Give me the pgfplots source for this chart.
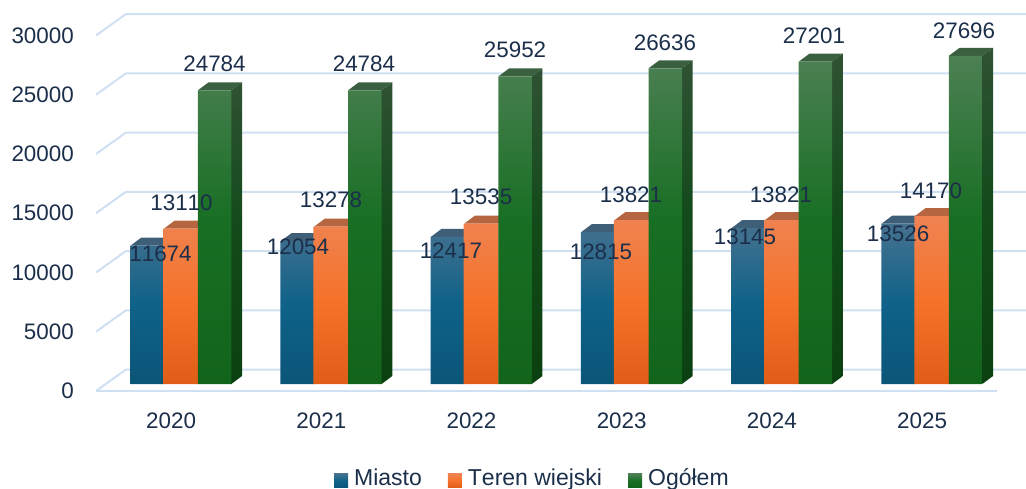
\documentclass[border=0pt]{standalone}
\usepackage{pgfplots}
\pgfplotsset{compat=1.18}
\usepackage{pgfplotstable}
\usepackage{fontspec}
\setmainfont[Kerning=Off]{Liberation Sans}
\definecolor{txt}{HTML}{1B2F4A}
\definecolor{gridc}{HTML}{CFE0F3}
\definecolor{bluetop}{HTML}{3F5F78}
\definecolor{orgtop}{HTML}{B56540}
\definecolor{grntop}{HTML}{3B6040}
\definecolor{blueT}{HTML}{46718F}\definecolor{blueM}{HTML}{0F6289}\definecolor{blueB}{HTML}{0B5578}
\definecolor{orgT}{HTML}{EF8352}\definecolor{orgM}{HTML}{F5722B}\definecolor{orgB}{HTML}{E05D18}
\definecolor{grnT}{HTML}{4D8054}\definecolor{grnM}{HTML}{186F24}\definecolor{grnB}{HTML}{12641B}
\definecolor{sidT}{HTML}{2F5233}\definecolor{sidM}{HTML}{124A1A}\definecolor{sidB}{HTML}{0B4010}
\pgfdeclareverticalshading{blueg}{100bp}{color(0bp)=(blueB);color(25bp)=(blueB);color(50bp)=(blueM);color(75bp)=(blueT);color(100bp)=(blueT)}
\pgfdeclareverticalshading{orgg}{100bp}{color(0bp)=(orgB);color(25bp)=(orgB);color(50bp)=(orgM);color(75bp)=(orgT);color(100bp)=(orgT)}
\pgfdeclareverticalshading{grng}{100bp}{color(0bp)=(grnB);color(25bp)=(grnB);color(50bp)=(grnM);color(75bp)=(grnT);color(100bp)=(grnT)}
\pgfdeclareverticalshading{sidg}{100bp}{color(0bp)=(sidB);color(25bp)=(sidB);color(50bp)=(sidM);color(75bp)=(sidT);color(100bp)=(sidT)}
\pgfplotstableread{
idx miasto teren ogolem
0 11674 13110 24784
1 12054 13278 24784
2 12417 13535 25952
3 12815 13821 26636
4 13145 13821 27201
5 13526 14170 27696
}\datatab
\pgfplotstableread{
px py lab
-0.0706 11603 11674
0.0692 15890 13110
0.289 27595 24784
0.845 12152 12054
1.065 16118 13278
1.284 27595 24784
1.863 11814 12417
2.064 16371 13535
2.290 28776 25952
2.862 11730 12815
3.062 16540 13821
3.288 29367 26636
3.821 12996 13145
4.060 16540 13821
4.280 29958 27201
4.840 13249 13526
5.059 16878 14170
5.279 30380 27696
}\labtab
% top face of a bar: category, value, left edge relative to the category, colour
\newcommand\topface[4]{%
  \pgfmathsetmacro\xa{#1+#3}\pgfmathsetmacro\xb{\xa+0.2230}%
  \pgfmathsetmacro\xc{\xb+0.0712}\pgfmathsetmacro\xd{\xa+0.0712}%
  \edef\yt{\the\numexpr#2+675\relax}%
  \edef\tmp{\noexpand\addplot[forget plot,yshift=7pt,fill=#4,draw=none] coordinates {(\xa,#2) (\xb,#2) (\xc,\yt) (\xd,\yt)} -- cycle;}\tmp}
% side face of a green bar
\newcommand\sideface[2]{%
  \pgfmathsetmacro\xa{#1+0.1783+0.2230}\pgfmathsetmacro\xb{\xa+0.0712}%
  \edef\yt{\the\numexpr#2+675\relax}%
  \edef\tmp{\noexpand\addplot[forget plot,yshift=7pt,shade,shading=sidg,draw=none] coordinates {(\xa,0) (\xb,675) (\xb,\yt) (\xa,#2)} -- cycle;}\tmp}
\newcommand\gridl[2]{\addplot[forget plot,gridc,line width=2pt] coordinates {(-0.5,#1) (-0.3003,#2) (5.6917,#2)};}
\begin{document}
\begin{tikzpicture}[x=1pt,y=1pt]
\useasboundingbox (0,0) rectangle (1026pt,488pt);
\begin{axis}[
  at={(96pt,97pt)},anchor=south west,
  scale only axis,width=930pt,height=391pt,
  xmin=-0.5,xmax=5.6917,ymin=0,ymax=32996,
  clip=false,
  axis line style={draw=none},
  major tick length=0pt,
  tick style={draw=none},
  xtick={0,1,2,3,4,5},
  xticklabels={2020,2021,2022,2023,2024,2025},
  ytick={0,5000,10000,15000,20000,25000,30000},
  scaled y ticks=false,
  /pgf/number format/assume math mode=true,
  /pgf/number format/1000 sep={},
  tick label style={font=\fontsize{22.4pt}{26pt}\selectfont,text=txt,inner sep=0pt},
  yticklabel style={anchor=east,xshift=-22pt},
  xticklabel style={anchor=north,yshift=-22pt},
  legend columns=-1,
  legend style={draw=none,fill=none,inner sep=0pt,at={(0.2559,-0.248)},anchor=south west,
    font=\fontsize{23pt}{26pt}\selectfont,text=txt,
    nodes={inner sep=0pt,anchor=base west},
    /tikz/every odd column/.style={column sep=6pt},
    /tikz/every even column/.style={column sep=26pt}},
]
\gridl{0}{1814}
\gridl{5000}{6814}
\gridl{10000}{11814}
\gridl{15000}{16814}
\gridl{20000}{21814}
\gridl{25000}{26814}
\gridl{30000}{31814}
\addplot[forget plot,gridc,line width=2pt] coordinates {(-0.5,0) (5.5,0)};
% blue
\topface{0}{11674}{-0.2703}{bluetop}
\topface{1}{12054}{-0.2703}{bluetop}
\topface{2}{12417}{-0.2703}{bluetop}
\topface{3}{12815}{-0.2703}{bluetop}
\topface{4}{13145}{-0.2703}{bluetop}
\topface{5}{13526}{-0.2703}{bluetop}
\addplot[ybar,bar width=34pt,bar shift=-23.85pt,yshift=7pt,shade,shading=blueg,draw=none,
  legend image code/.code={\path[shade,shading=blueg] (0pt,-9.3pt) rectangle (14pt,4.7pt);}]
  table[x=idx,y=miasto]{\datatab};
% orange
\topface{0}{13110}{-0.0479}{orgtop}
\topface{1}{13278}{-0.0479}{orgtop}
\topface{2}{13535}{-0.0479}{orgtop}
\topface{3}{13821}{-0.0479}{orgtop}
\topface{4}{13821}{-0.0479}{orgtop}
\topface{5}{14170}{-0.0479}{orgtop}
\addplot[ybar,bar width=35pt,bar shift=9.65pt,yshift=7pt,shade,shading=orgg,draw=none,
  legend image code/.code={\path[shade,shading=orgg] (0pt,-9.3pt) rectangle (14pt,4.7pt);}]
  table[x=idx,y=teren]{\datatab};
% green
\sideface{0}{24784}
\sideface{1}{24784}
\sideface{2}{25952}
\sideface{3}{26636}
\sideface{4}{27201}
\sideface{5}{27696}
\topface{0}{24784}{0.1783}{grntop}
\topface{1}{24784}{0.1783}{grntop}
\topface{2}{25952}{0.1783}{grntop}
\topface{3}{26636}{0.1783}{grntop}
\topface{4}{27201}{0.1783}{grntop}
\topface{5}{27696}{0.1783}{grntop}
\addplot[ybar,bar width=33.5pt,bar shift=43.55pt,yshift=7pt,shade,shading=grng,draw=none,
  legend image code/.code={\path[shade,shading=grng] (0pt,-9.3pt) rectangle (14pt,4.7pt);}]
  table[x=idx,y=ogolem]{\datatab};
% data labels
\addplot[forget plot,draw=none,mark=none,
  point meta=explicit symbolic,
  nodes near coords,
  every node near coord/.style={anchor=center,inner sep=0pt,font=\fontsize{22.4pt}{26pt}\selectfont,text=txt}]
  table[x=px,y=py,meta=lab]{\labtab};
\legend{Miasto,Teren wiejski,Ogółem}
\end{axis}
\end{tikzpicture}
\end{document}
